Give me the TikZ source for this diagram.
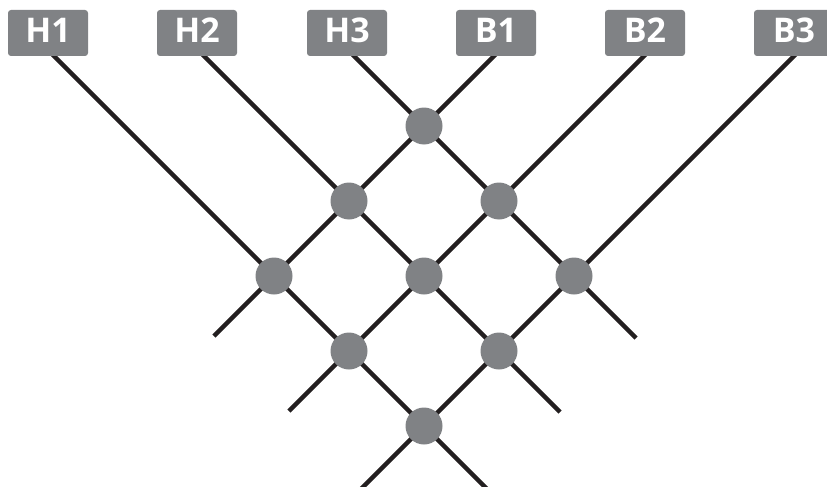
\documentclass[tikz,border=0pt]{standalone}
\usepackage{fontspec}
\setmainfont{Open Sans}
\definecolor{nodegray}{HTML}{808285}
\definecolor{wireblack}{HTML}{231F20}
\begin{document}
\begin{tikzpicture}[x=1pt,y=-1pt,
  tag/.style={fill=nodegray, rounded corners=3pt, minimum width=80pt, minimum height=46pt,
    inner sep=0pt, text=white, text height=25pt, text depth=5pt,
    font=\fontsize{34}{34}\selectfont\bfseries},
  cross/.style={circle, fill=nodegray, minimum size=37pt, inner sep=0pt},
  wire/.style={line width=4.5pt, draw=wireblack}]
\useasboundingbox (0,0) rectangle (827,487);
\clip (0,0) rectangle (827,487);
% crossing centres
\coordinate (c1) at (424,126);
\coordinate (c2) at (349,201);
\coordinate (c3) at (499,201);
\coordinate (c4) at (274,276);
\coordinate (c5) at (424,276);
\coordinate (c6) at (574,276);
\coordinate (c7) at (349,351);
\coordinate (c8) at (499,351);
\coordinate (c9) at (424,426);
% wire ends
\coordinate (sH1) at (50,52);  \coordinate (eH1) at (487,489);
\coordinate (sH2) at (200,52); \coordinate (eH2) at (560,412);
\coordinate (sH3) at (350,52); \coordinate (eH3) at (636,338);
\coordinate (sB1) at (498,52); \coordinate (eB1) at (214,336);
\coordinate (sB2) at (648,52); \coordinate (eB2) at (289,411);
\coordinate (sB3) at (798,52); \coordinate (eB3) at (361,489);
% wires
\draw[wire] (sH1) -- (eH1);
\draw[wire] (sH2) -- (eH2);
\draw[wire] (sH3) -- (eH3);
\draw[wire] (sB1) -- (eB1);
\draw[wire] (sB2) -- (eB2);
\draw[wire] (sB3) -- (eB3);
% crossing dots
\foreach \c in {c1,c2,c3,c4,c5,c6,c7,c8,c9}
  \node[cross] (n\c) at (\c) {};
% labels
\node[tag] (H1) at (48,33) {H1};
\node[tag] (H2) at (197,33) {H2};
\node[tag] (H3) at (347,33) {H3};
\node[tag] (B1) at (496,33) {B1};
\node[tag] (B2) at (645,33) {B2};
\node[tag] (B3) at (794,33) {B3};
\end{tikzpicture}
\end{document}
